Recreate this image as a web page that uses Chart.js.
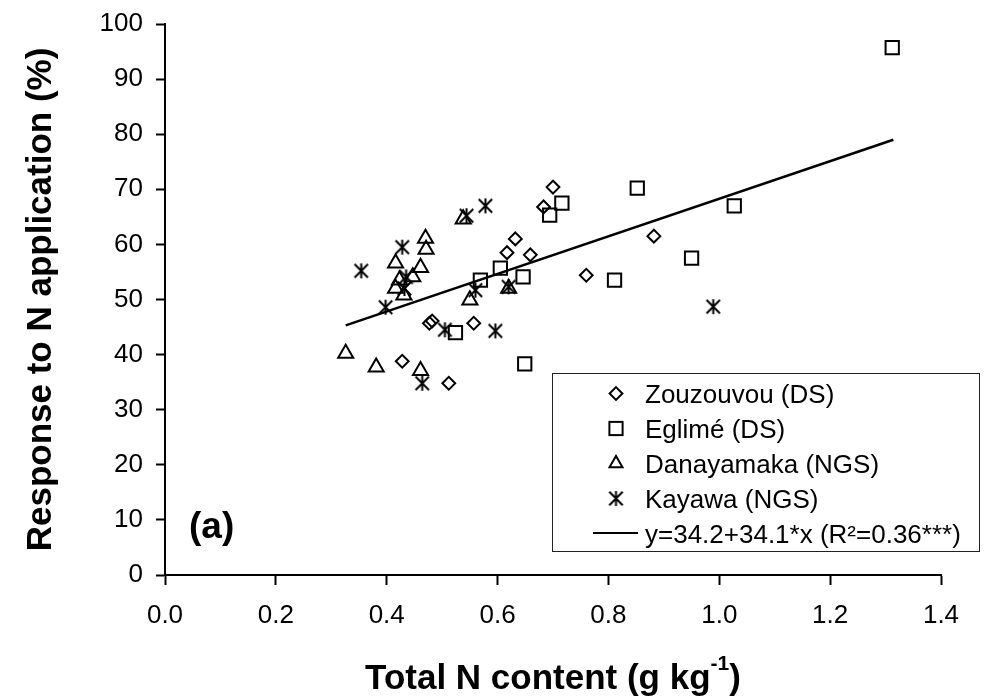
<!DOCTYPE html>
<html><head><meta charset="utf-8">
<script src="https://cdn.jsdelivr.net/npm/chart.js@4/dist/chart.umd.min.js"></script>
<style>html,body{margin:0;padding:0;background:#fff;} #wrap{width:1003px;height:698px;position:relative;}</style>
</head><body><div id="wrap"><canvas id="c" width="1003" height="698"></canvas></div>
<script>
// ---- data ----
const seriesLabels = ['Zouzouvou (DS)', 'Eglimé (DS)', 'Danayamaka (NGS)', 'Kayawa (NGS)'];
const trendLabel = 'y=34.2+34.1*x (R²=0.36***)';

const zouzouvouX = [0.477, 0.482, 0.557, 0.428, 0.512, 0.617, 0.632, 0.659, 0.700, 0.683, 0.882, 0.760];
const zouzouvouY = [45.7, 46.1, 45.7, 38.8, 34.8, 58.5, 61.0, 58.1, 70.4, 66.8, 61.5, 54.4];

const eglimeX = [0.524, 0.569, 0.605, 0.646, 0.649, 0.694, 0.716, 0.852, 0.950, 0.811, 1.027, 1.312];
const eglimeY = [44.0, 53.5, 55.7, 54.1, 38.3, 65.3, 67.5, 70.2, 57.5, 53.5, 67.0, 95.7];

const danayamakaX = [0.326, 0.381, 0.461, 0.538, 0.470, 0.471, 0.416, 0.461, 0.447, 0.423, 0.416, 0.431, 0.550, 0.620];
const danayamakaY = [40.2, 37.7, 37.1, 64.6, 61.1, 59.1, 56.6, 55.8, 54.1, 53.5, 52.0, 50.8, 49.9, 52.0];

const kayawaX = [0.354, 0.428, 0.544, 0.578, 0.435, 0.432, 0.398, 0.505, 0.560, 0.596, 0.464, 0.620, 0.989];
const kayawaY = [55.2, 59.5, 65.2, 67.0, 54.1, 52.0, 48.6, 44.5, 51.7, 44.3, 34.8, 52.3, 48.7];

const trendX = [0.326, 1.314];
const trendY = [45.3, 79.0];

const xTickLabels = ['0.0', '0.2', '0.4', '0.6', '0.8', '1.0', '1.2', '1.4'];
const yTickLabels = ['0', '10', '20', '30', '40', '50', '60', '70', '80', '90', '100'];

const xTitleMain = 'Total N content (g kg';
const xTitleSup = '-1';
const xTitleEnd = ')';
const yTitle = 'Response to N application (%)';
const panelLabel = '(a)';

// ---- helpers ----
const FONT = "'Liberation Sans', Arial, sans-serif";
function pts(xs, ys) { return xs.map((x, i) => ({x: x, y: ys[i]})); }

function makeStar(size, lw) {
  const c = document.createElement('canvas');
  c.width = size; c.height = size;
  const g = c.getContext('2d');
  g.strokeStyle = '#000'; g.lineWidth = lw;
  const m = size / 2, a = size / 2 - 1;
  g.beginPath();
  g.moveTo(m, m - a); g.lineTo(m, m + a);
  g.moveTo(m - a + 0.8, m - a + 0.8); g.lineTo(m + a - 0.8, m + a - 0.8);
  g.moveTo(m + a - 0.8, m - a + 0.8); g.lineTo(m - a + 0.8, m + a - 0.8);
  g.stroke();
  return c;
}
const starImg = makeStar(17, 2);

const markerStyle = [
  {pointStyle: 'rectRot', radius: 6.4},
  {pointStyle: 'rect', radius: 9.4},
  {pointStyle: 'triangle', radius: 8.7},
  {pointStyle: starImg, radius: 8}
];

function scatterSet(label, xs, ys, k) {
  return {
    type: 'scatter', label: label, data: pts(xs, ys),
    pointStyle: markerStyle[k].pointStyle, pointRadius: markerStyle[k].radius,
    pointHoverRadius: markerStyle[k].radius,
    borderColor: '#000', backgroundColor: 'rgba(0,0,0,0)', pointBorderWidth: 2, borderWidth: 2
  };
}

// Legend + extra texts
const extrasPlugin = {
  id: 'extras',
  afterDraw(chart) {
    const ctx = chart.ctx;
    ctx.save();
    // legend box
    const bx = 552, by = 373, bw = 427, bh = 178;
    ctx.fillStyle = '#fff';
    ctx.fillRect(bx, by, bw, bh);
    ctx.strokeStyle = '#222'; ctx.lineWidth = 1;
    ctx.strokeRect(bx + 0.5, by + 0.5, bw, bh);
    const mx = 616, rowY0 = 393.5, rowH = 35;
    ctx.strokeStyle = '#000'; ctx.lineWidth = 2;
    // diamond
    let y = rowY0, r = 6.4;
    ctx.beginPath(); ctx.moveTo(mx, y - r); ctx.lineTo(mx + r, y); ctx.lineTo(mx, y + r); ctx.lineTo(mx - r, y); ctx.closePath(); ctx.stroke();
    // square
    y = rowY0 + rowH; r = 6.6;
    ctx.strokeRect(mx - r, y - r, 2 * r, 2 * r);
    // triangle
    y = rowY0 + 2 * rowH; r = 7.5;
    ctx.beginPath(); ctx.moveTo(mx, y - r);
    ctx.lineTo(mx + r * Math.sin(2 * Math.PI / 3), y + r / 2);
    ctx.lineTo(mx - r * Math.sin(2 * Math.PI / 3), y + r / 2);
    ctx.closePath(); ctx.stroke();
    // star
    y = rowY0 + 3 * rowH;
    ctx.drawImage(starImg, mx - starImg.width / 2, y - starImg.height / 2);
    // line
    y = rowY0 + 4 * rowH - 0.5;
    ctx.beginPath(); ctx.moveTo(593, y); ctx.lineTo(638, y); ctx.lineWidth = 2; ctx.stroke();
    // labels
    ctx.fillStyle = '#000';
    ctx.font = '26px ' + FONT;
    ctx.textAlign = 'left'; ctx.textBaseline = 'alphabetic';
    const labels = seriesLabels.concat([trendLabel]);
    labels.forEach((t, i) => ctx.fillText(t, 645, 402.5 + i * rowH));

    // panel label
    ctx.font = 'bold 37px ' + FONT;
    ctx.fillText(panelLabel, 189, 538);

    // x-axis title with superscript
    const area = chart.chartArea;
    const mainFont = 'bold 35px ' + FONT, supFont = 'bold 21px ' + FONT;
    ctx.font = mainFont; const w1 = ctx.measureText(xTitleMain).width; const w3 = ctx.measureText(xTitleEnd).width;
    ctx.font = supFont; const w2 = ctx.measureText(xTitleSup).width;
    const total = w1 + w2 + w3;
    let x = (area.left + area.right) / 2 - total / 2;
    const base = 689;
    ctx.font = mainFont; ctx.fillText(xTitleMain, x, base); x += w1;
    ctx.font = supFont; ctx.fillText(xTitleSup, x, base - 19); x += w2;
    ctx.font = mainFont; ctx.fillText(xTitleEnd, x, base);
    ctx.restore();
  }
};

const chart = new Chart(document.getElementById('c'), {
  data: {
    datasets: [
      scatterSet(seriesLabels[0], zouzouvouX, zouzouvouY, 0),
      scatterSet(seriesLabels[1], eglimeX, eglimeY, 1),
      scatterSet(seriesLabels[2], danayamakaX, danayamakaY, 2),
      scatterSet(seriesLabels[3], kayawaX, kayawaY, 3),
      {
        type: 'line', label: trendLabel, data: pts(trendX, trendY),
        borderColor: '#000', borderWidth: 2.5, pointRadius: 0, fill: false, tension: 0
      }
    ]
  },
  options: {
    responsive: false, animation: false,
    layout: {padding: {left: 0, top: 24, right: 62, bottom: 0}},
    plugins: {legend: {display: false}, tooltip: {enabled: false}},
    scales: {
      x: {
        type: 'linear', min: 0, max: 1.4,
        afterFit: (s) => { s.height = 123; s.paddingLeft = 0; s.paddingRight = 0; },
        grid: {drawOnChartArea: false, drawTicks: true, tickLength: 10, tickWidth: 2, tickColor: '#000'},
        border: {color: '#000', width: 2},
        ticks: {
          stepSize: 0.2, autoSkip: false, maxRotation: 0, padding: 15, color: '#000',
          font: {family: FONT, size: 26},
          callback: (v, i) => xTickLabels[i]
        }
      },
      y: {
        type: 'linear', min: 0, max: 100,
        afterFit: (s) => { s.width = 165; s.paddingTop = 0; s.paddingBottom = 0; },
        grid: {drawOnChartArea: false, drawTicks: true, tickLength: 9, tickWidth: 2, tickColor: '#000'},
        border: {color: '#000', width: 2},
        ticks: {
          stepSize: 10, autoSkip: false, padding: 13, color: '#000',
          font: {family: FONT, size: 26},
          callback: (v, i) => yTickLabels[i]
        },
        title: {
          display: true, text: yTitle, color: '#000',
          font: {family: FONT, size: 35, weight: 'bold'},
          padding: {top: 20, bottom: 0}
        }
      }
    }
  },
  plugins: [extrasPlugin]
});
</script>
</body></html>
